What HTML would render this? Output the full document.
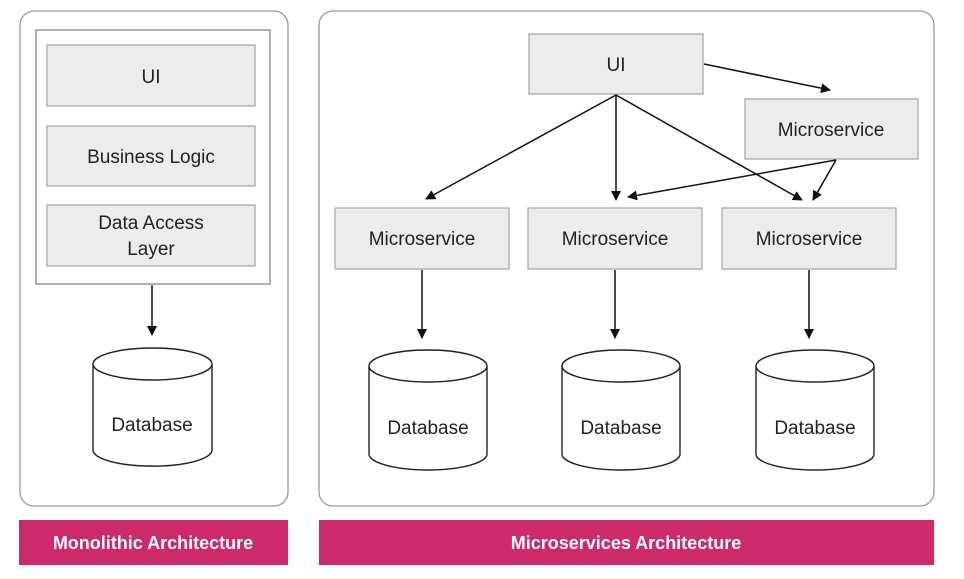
<!DOCTYPE html><html><head><style>body{margin:0;background:#fff}svg{display:block}text{font-family:"Liberation Sans",sans-serif;fill:#222}</style></head><body>
<svg width="964" height="579" viewBox="0 0 964 579">
<defs><marker id="a" markerWidth="10" markerHeight="10" refX="9" refY="5" orient="auto" markerUnits="userSpaceOnUse"><path d="M0,0L10,5L0,10z" fill="#111"/></marker></defs>
<g fill="none" stroke="#999" stroke-width="1.3">
<rect x="20" y="11" width="268" height="495" rx="14"/>
<rect x="319" y="11" width="615" height="495" rx="14"/>
<rect x="36" y="30" width="234" height="254" stroke="#888"/>
</g>
<g fill="#ececec" stroke="#aaa" stroke-width="1.3">
<rect x="47" y="45" width="208" height="61"/>
<rect x="47" y="126" width="208" height="60"/>
<rect x="47" y="205" width="208" height="61"/>
<rect x="529" y="34" width="174" height="60"/>
<rect x="745" y="99" width="173" height="60"/>
<rect x="335" y="208" width="174" height="61"/>
<rect x="528" y="208" width="174" height="61"/>
<rect x="722" y="208" width="174" height="61"/>
</g>
<g font-size="19" text-anchor="middle">
<text x="151" y="83">UI</text>
<text x="151" y="163">Business Logic</text>
<text x="151" y="229">Data Access</text>
<text x="151" y="255">Layer</text>
<text x="616" y="71">UI</text>
<text x="831" y="136">Microservice</text>
<text x="422" y="245">Microservice</text>
<text x="615" y="245">Microservice</text>
<text x="809" y="245">Microservice</text>
</g>
<g stroke="#111" stroke-width="1.5" marker-end="url(#a)">
<line x1="152" y1="285" x2="152" y2="335"/>
<line x1="422" y1="270" x2="422" y2="338"/>
<line x1="615" y1="270" x2="615" y2="338"/>
<line x1="809" y1="270" x2="809" y2="338"/>
<line x1="616" y1="95" x2="426" y2="199"/>
<line x1="616" y1="95" x2="616" y2="200"/>
<line x1="616" y1="95" x2="802" y2="200"/>
<line x1="704" y1="64" x2="830" y2="90"/>
<line x1="836" y1="160" x2="628" y2="197"/>
<line x1="836" y1="160" x2="813" y2="200"/>
</g>
<g fill="#fff" stroke="#222" stroke-width="1.4">
<path d="M93,364v86a59,16 0 0 0 119,0v-86"/><ellipse cx="152.5" cy="364" rx="59.5" ry="16"/>
<path d="M369,366v88a59,16 0 0 0 118,0v-88"/><ellipse cx="428" cy="366" rx="59" ry="16"/>
<path d="M562,366v88a59,16 0 0 0 118,0v-88"/><ellipse cx="621" cy="366" rx="59" ry="16"/>
<path d="M756,366v88a59,16 0 0 0 118,0v-88"/><ellipse cx="815" cy="366" rx="59" ry="16"/>
</g>
<g font-size="19" text-anchor="middle">
<text x="152" y="431">Database</text>
<text x="428" y="434">Database</text>
<text x="621" y="434">Database</text>
<text x="815" y="434">Database</text>
</g>
<rect x="19" y="520" width="269" height="45" fill="#cc2a6a"/>
<rect x="319" y="520" width="615" height="45" fill="#cc2a6a"/>
<g font-size="18" font-weight="bold" text-anchor="middle" style="fill:#fff">
<text x="153" y="549" style="fill:#fff">Monolithic Architecture</text>
<text x="626" y="549" style="fill:#fff">Microservices Architecture</text>
</g>
</svg></body></html>
